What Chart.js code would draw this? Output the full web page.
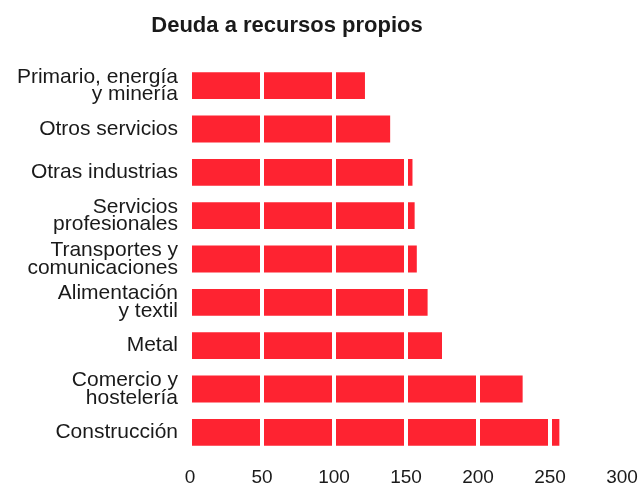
<!DOCTYPE html>
<html>
<head>
<meta charset="utf-8">
<script src="https://cdn.jsdelivr.net/npm/chart.js@4/dist/chart.umd.min.js"></script>
<style>
  html, body { margin: 0; padding: 0; background: #fff; }
  #wrap { position: relative; width: 643px; height: 487px; }
  #title {
    position: absolute; left: 0; width: 574px; top: 12px;
    text-align: center; font: bold 22px "Liberation Sans", Arial, sans-serif; color: #1a1a1a;
  }
</style>
</head>
<body>
<div id="wrap">
  <div id="title">Deuda a recursos propios</div>
  <canvas id="myChart" width="643" height="487"></canvas>
</div>
<script>
// sectores, de arriba a abajo
var sectores = [
  ['Primario, energía', 'y minería'],
  'Otros servicios',
  'Otras industrias',
  ['Servicios', 'profesionales'],
  ['Transportes y', 'comunicaciones'],
  ['Alimentación', 'y textil'],
  'Metal',
  ['Comercio y', 'hostelería'],
  'Construcción'
];
var deuda = [121.5, 139, 154.5, 156, 157.5, 165, 175, 231, 256.5];
var ticksX = [0, 50, 100, 150, 200, 250, 300];

const ctx = document.getElementById('myChart').getContext('2d');
const myChart = new Chart(ctx, {
  type: 'bar',
  data: {
    labels: sectores,
    datasets: [{
      data: deuda,
      backgroundColor: '#fe2331',
      borderWidth: 0,
      barPercentage: 0.62,
      categoryPercentage: 1
    }]
  },
  options: {
    indexAxis: 'y',
    responsive: false,
    animation: false,
    layout: { padding: { top: 64, right: 0, bottom: 0, left: 0 } },
    plugins: {
      legend: { display: false },
      tooltip: { enabled: false }
    },
    scales: {
      x: {
        min: 0,
        max: 300,
        afterBuildTicks: function(s) { s.ticks = ticksX.map(v => ({ value: v })) },
        afterFit: function(s) { s.height = 33; s.paddingRight = 21 },
        border: { display: false },
        grid: {
          z: 1,
          lineWidth: 4,
          drawTicks: false,
          color: function(c) { return c.tick && c.tick.value > 0 ? '#ffffff' : 'rgba(0,0,0,0)' }
        },
        ticks: {
          padding: 12,
          color: '#1a1a1a',
          font: { family: 'Liberation Sans', size: 19 }
        }
      },
      y: {
        border: { display: false },
        grid: { display: false, drawTicks: false },
        afterFit: function(s) { s.width = 190 },
        ticks: {
          padding: 12,
          color: '#1a1a1a',
          font: { family: 'Liberation Sans', size: 21, lineHeight: 0.85 }
        }
      }
    }
  }
});
</script>
</body>
</html>
